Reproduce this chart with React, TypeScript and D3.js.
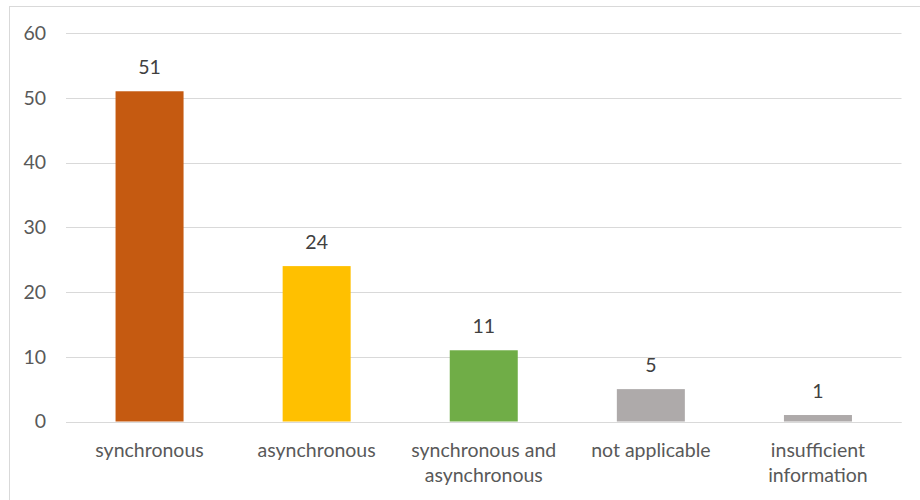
import * as d3 from 'd3';
import * as React from 'react';

const { useRef, useEffect } = React;

const width = 920;
const height = 500;
const margin = { top: 33, right: 18.5, bottom: 78.5, left: 66 };

const categories = [
  ['synchronous'],
  ['asynchronous'],
  ['synchronous and', 'asynchronous'],
  ['not applicable'],
  ['insufficient', 'information'],
];
const values = [51, 24, 11, 5, 1];
const barColors = ['#C55A11', '#FFC000', '#70AD47', '#AEAAAA', '#AEAAAA'];
const yTicks = [0, 10, 20, 30, 40, 50, 60];

const font = 'Lato, sans-serif';
const fontSize = 19.5;

export default () => {
  const rootRef = useRef<HTMLDivElement>(null);

  useEffect(() => {
    const rootEl = rootRef.current;
    if (!rootEl) return;
    d3.select(rootEl).selectAll('*').remove();

    const keys = categories.map(c => c.join(' '));

    const x = d3
      .scaleBand()
      .domain(keys)
      .range([margin.left, width - margin.right])
      .paddingInner(0.593)
      .paddingOuter(0.2965);

    const y = d3
      .scaleLinear()
      .domain([0, 60])
      .range([height - margin.bottom, margin.top]);

    const svg = d3
      .select(rootEl)
      .append('svg')
      .attr('width', width)
      .attr('height', height)
      .style('position', 'absolute')
      .style('left', '0px')
      .style('top', '0px')
      .attr('font-family', font);

    svg
      .append('rect')
      .attr('x', 9.5)
      .attr('y', 6.5)
      .attr('width', width + 20)
      .attr('height', height + 20)
      .attr('fill', '#fff')
      .attr('stroke', '#D9D9D9')
      .attr('stroke-width', 1);

    // gridlines
    svg
      .append('g')
      .selectAll('line')
      .data(yTicks)
      .join('line')
      .attr('x1', margin.left)
      .attr('x2', width - margin.right)
      .attr('y1', d => Math.round(y(d)) + 0.5)
      .attr('y2', d => Math.round(y(d)) + 0.5)
      .attr('stroke', '#D9D9D9')
      .attr('stroke-width', 1);

    // y tick labels
    svg
      .append('g')
      .selectAll('text')
      .data(yTicks)
      .join('text')
      .attr('x', 46)
      .attr('y', d => y(d))
      .attr('dy', '0.35em')
      .attr('text-anchor', 'end')
      .attr('font-size', fontSize)
      .attr('fill', '#595959')
      .text(d => d);

    // bars
    svg
      .append('g')
      .selectAll('rect')
      .data(values)
      .join('rect')
      .attr('x', (d, i) => x(keys[i]) as number)
      .attr('y', d => y(d))
      .attr('width', x.bandwidth())
      .attr('height', d => y(0) - y(d))
      .attr('fill', (d, i) => barColors[i]);

    // axis line
    svg
      .append('line')
      .attr('x1', margin.left)
      .attr('x2', width - margin.right)
      .attr('y1', Math.round(y(0)) + 0.5)
      .attr('y2', Math.round(y(0)) + 0.5)
      .attr('stroke', '#D9D9D9');

    // value labels
    svg
      .append('g')
      .selectAll('text')
      .data(values)
      .join('text')
      .attr('x', (d, i) => (x(keys[i]) as number) + x.bandwidth() / 2)
      .attr('y', d => y(d) - 17)
      .attr('text-anchor', 'middle')
      .attr('font-size', fontSize)
      .attr('fill', '#404040')
      .text(d => d);

    // category labels
    const cat = svg
      .append('g')
      .selectAll('text')
      .data(categories)
      .join('text')
      .attr('x', (d, i) => (x(keys[i]) as number) + x.bandwidth() / 2)
      .attr('y', 457)
      .attr('text-anchor', 'middle')
      .attr('font-size', fontSize)
      .attr('fill', '#595959');

    cat
      .selectAll('tspan')
      .data(d => d)
      .join('tspan')
      .attr('x', function () {
        return (this.parentNode as SVGTextElement).getAttribute('x');
      })
      .attr('dy', (d, i) => (i === 0 ? 0 : 25))
      .text(d => d);
  }, []);

  return <div ref={rootRef} />;
};
